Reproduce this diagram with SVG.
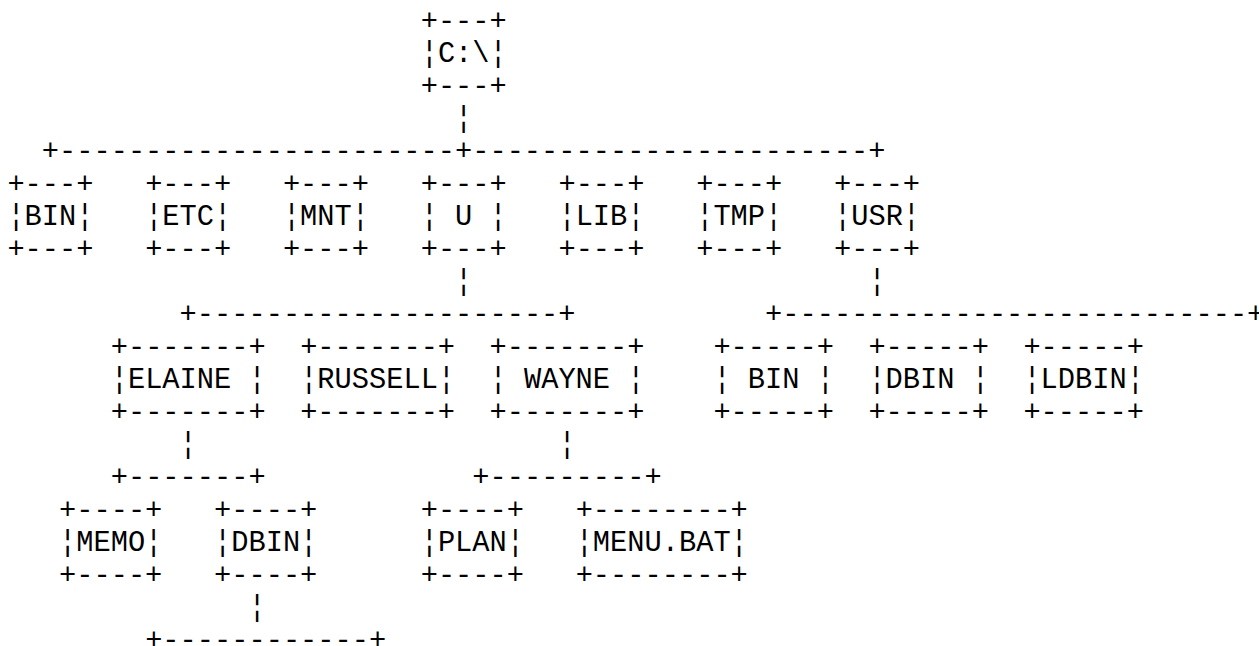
<svg xmlns="http://www.w3.org/2000/svg" width="1259" height="646" viewBox="0 0 1259 646">
<style>
text{font-family:"Liberation Mono","DejaVu Sans Mono",monospace;font-size:28.7px;fill:#000;white-space:pre}
</style>
<rect width="1259" height="646" fill="#fff"/>
<g id="connectors">
<text x="455.12" y="127.3">¦</text>
<text x="41.84" y="159.9">+-----------------------+-----------------------+</text>
<text x="455.12" y="290.3">¦</text>
<text x="868.4" y="290.3">¦</text>
<text x="179.6" y="322.9">+---------------------+</text>
<text x="765.08" y="322.9">+---------------------------+</text>
<text x="179.6" y="453.3">¦</text>
<text x="558.44" y="453.3">¦</text>
<text x="110.72" y="485.9">+-------+</text>
<text x="472.34" y="485.9">+---------+</text>
<text x="248.48" y="616.3">¦</text>
<text x="145.16" y="648.9">+------------+</text>
</g>
<g id="node-c">
<text x="420.68" y="29.5">+---+</text>
<text x="420.68" y="62.1">¦C:\¦</text>
<text x="420.68" y="94.7">+---+</text>
</g>
<g id="node-bin">
<text x="7.4" y="192.5">+---+</text>
<text x="7.4" y="225.1">¦BIN¦</text>
<text x="7.4" y="257.7">+---+</text>
</g>
<g id="node-etc">
<text x="145.16" y="192.5">+---+</text>
<text x="145.16" y="225.1">¦ETC¦</text>
<text x="145.16" y="257.7">+---+</text>
</g>
<g id="node-mnt">
<text x="282.92" y="192.5">+---+</text>
<text x="282.92" y="225.1">¦MNT¦</text>
<text x="282.92" y="257.7">+---+</text>
</g>
<g id="node-u">
<text x="420.68" y="192.5">+---+</text>
<text x="420.68" y="225.1">¦ U ¦</text>
<text x="420.68" y="257.7">+---+</text>
</g>
<g id="node-lib">
<text x="558.44" y="192.5">+---+</text>
<text x="558.44" y="225.1">¦LIB¦</text>
<text x="558.44" y="257.7">+---+</text>
</g>
<g id="node-tmp">
<text x="696.2" y="192.5">+---+</text>
<text x="696.2" y="225.1">¦TMP¦</text>
<text x="696.2" y="257.7">+---+</text>
</g>
<g id="node-usr">
<text x="834" y="192.5">+---+</text>
<text x="834" y="225.1">¦USR¦</text>
<text x="834" y="257.7">+---+</text>
</g>
<g id="node-elaine">
<text x="110.72" y="355.5">+-------+</text>
<text x="110.72" y="388.1">¦ELAINE ¦</text>
<text x="110.72" y="420.7">+-------+</text>
</g>
<g id="node-russell">
<text x="300.14" y="355.5">+-------+</text>
<text x="300.14" y="388.1">¦RUSSELL¦</text>
<text x="300.14" y="420.7">+-------+</text>
</g>
<g id="node-wayne">
<text x="489.56" y="355.5">+-------+</text>
<text x="489.56" y="388.1">¦ WAYNE ¦</text>
<text x="489.56" y="420.7">+-------+</text>
</g>
<g id="node-usr-bin">
<text x="713.42" y="355.5">+-----+</text>
<text x="713.42" y="388.1">¦ BIN ¦</text>
<text x="713.42" y="420.7">+-----+</text>
</g>
<g id="node-usr-dbin">
<text x="868.4" y="355.5">+-----+</text>
<text x="868.4" y="388.1">¦DBIN ¦</text>
<text x="868.4" y="420.7">+-----+</text>
</g>
<g id="node-ldbin">
<text x="1023.38" y="355.5">+-----+</text>
<text x="1023.38" y="388.1">¦LDBIN¦</text>
<text x="1023.38" y="420.7">+-----+</text>
</g>
<g id="node-memo">
<text x="59.06" y="518.5">+----+</text>
<text x="59.06" y="551.1">¦MEMO¦</text>
<text x="59.06" y="583.7">+----+</text>
</g>
<g id="node-elaine-dbin">
<text x="214.04" y="518.5">+----+</text>
<text x="214.04" y="551.1">¦DBIN¦</text>
<text x="214.04" y="583.7">+----+</text>
</g>
<g id="node-plan">
<text x="420.68" y="518.5">+----+</text>
<text x="420.68" y="551.1">¦PLAN¦</text>
<text x="420.68" y="583.7">+----+</text>
</g>
<g id="node-menu">
<text x="575.66" y="518.5">+--------+</text>
<text x="575.66" y="551.1">¦MENU.BAT¦</text>
<text x="575.66" y="583.7">+--------+</text>
</g>
</svg>
